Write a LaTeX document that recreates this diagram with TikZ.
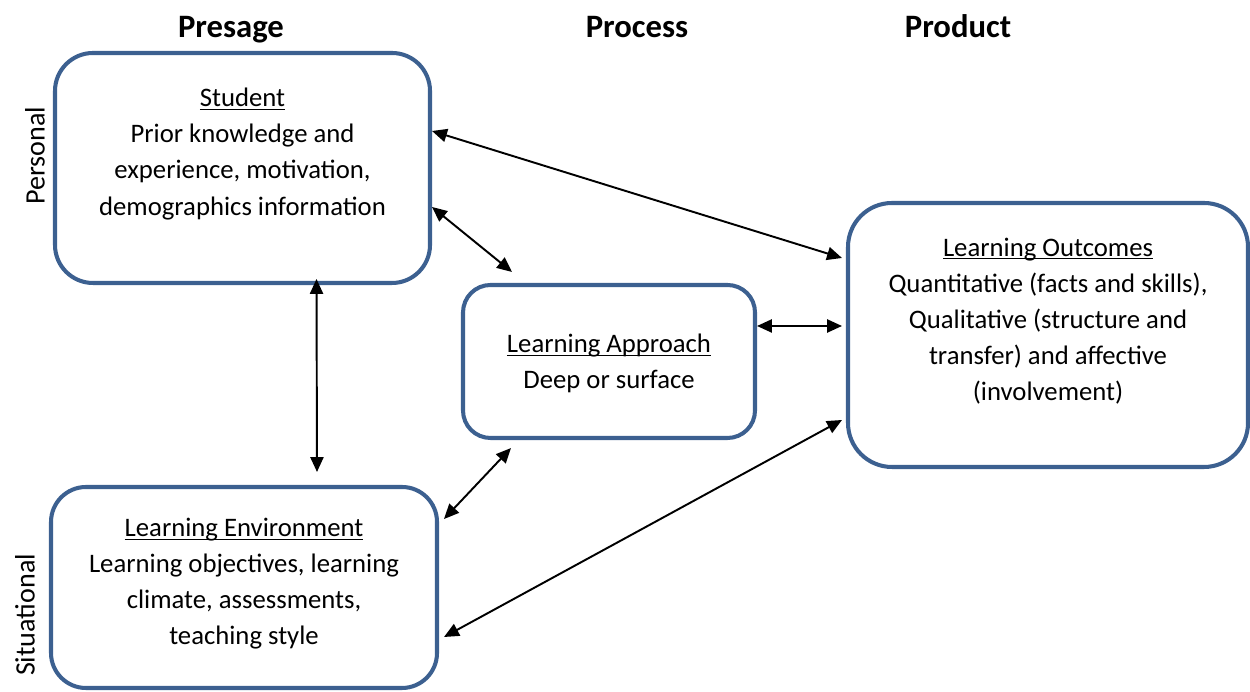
\documentclass[tikz,border=0pt]{standalone}
\usepackage{fontspec}
\setmainfont{Carlito}
\usetikzlibrary{arrows.meta}
\definecolor{frameblue}{RGB}{60,96,144}
\newcommand\boxtitle[1]{\underline{\raisebox{0pt}[\height][0pt]{#1}}}
\tikzset{
  block/.style={draw=frameblue, line width=2.3pt, fill=white},
  blocktext/.style={align=center, font=\fontsize{15.2}{20.5}\selectfont},
  stage/.style={anchor=base, font=\fontsize{18.6}{20}\selectfont\bfseries},
  side/.style={rotate=90, font=\fontsize{16}{20}\selectfont},
  link/.style={<->, line width=1.1pt}
}
\begin{document}
\begin{tikzpicture}[>={Triangle[length=8.5pt,width=7.5pt]}]
  \useasboundingbox (0,0) rectangle (25,13.84);
  \node[stage] (presage) at (4.62,13.08) {Presage};
  \node[stage] (process) at (12.74,13.08) {Process};
  \node[stage] (product) at (19.16,13.08) {Product};
  \node[side] (personal) at (0.70,10.72) {Personal};
  \node[side] (situational) at (0.50,1.54) {Situational};
  \node[block, rounded corners=0.76cm, minimum width=7.5cm, minimum height=4.6cm] (student) at (4.85,10.48) {};
  \node[block, rounded corners=0.55cm, minimum width=5.84cm, minimum height=3.06cm] (approach) at (12.18,6.61) {};
  \node[block, rounded corners=0.7cm, minimum width=7.72cm, minimum height=4.02cm] (environment) at (4.88,2.09) {};
  \node[block, rounded corners=0.88cm, minimum width=8cm, minimum height=5.28cm] (outcomes) at (20.96,7.14) {};
  \node[blocktext] (studenttext) at ([yshift=0.28cm]student.center)
    {\boxtitle{Student}\\Prior knowledge and\\experience, motivation,\\demographics information};
  \node[blocktext] (approachtext) at ([yshift=-0.04cm]approach.center)
    {\boxtitle{Learning Approach}\\Deep or surface};
  \node[blocktext] (environmenttext) at ([yshift=0.07cm]environment.center)
    {\boxtitle{Learning Environment}\\Learning objectives, learning\\climate, assessments,\\teaching style};
  \node[blocktext] (outcomestext) at ([yshift=0.28cm]outcomes.center)
    {\boxtitle{Learning Outcomes}\\Quantitative (facts and skills),\\Qualitative (structure and\\transfer) and affective\\(involvement)};
  \draw[link] ([yshift=0.74cm]student.east) -- ([xshift=-0.08cm,yshift=1.54cm]outcomes.west);
  \draw[link] ([yshift=-0.78cm]student.east) -- ([xshift=-1.94cm,yshift=0.22cm]approach.north);
  \draw[link] ([yshift=0.71cm]approach.east) -- ([xshift=-0.08cm,yshift=0.18cm]outcomes.west);
  \draw[link] ([xshift=1.48cm,yshift=0.12cm]student.south) -- ([xshift=1.46cm,yshift=0.26cm]environment.north);
  \draw[link] ([xshift=0.1cm,yshift=1.37cm]environment.east) -- ([xshift=-1.96cm,yshift=-0.16cm]approach.south);
  \draw[link] ([xshift=0.1cm,yshift=-0.99cm]environment.east) -- ([xshift=-0.08cm,yshift=-1.7cm]outcomes.west);
\end{tikzpicture}
\end{document}
